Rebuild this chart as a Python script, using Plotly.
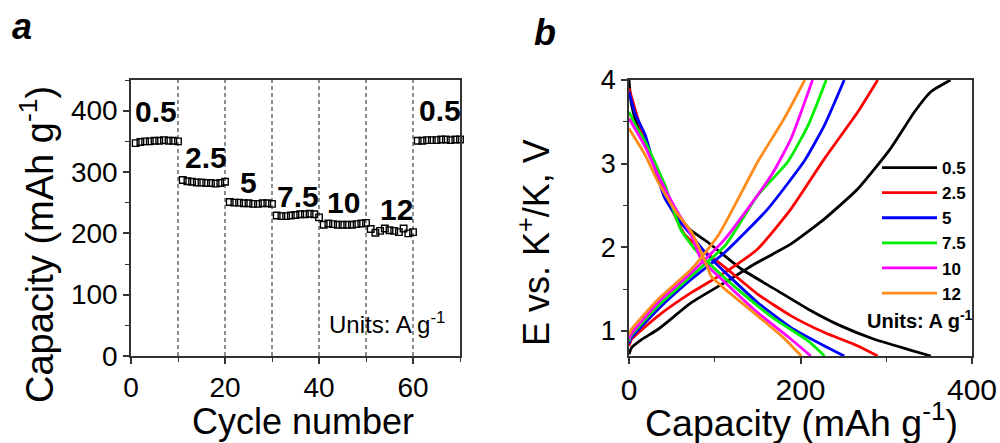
import plotly.graph_objects as go

# ---------------- Panel a data: rate capability ----------------
cycles = list(range(1, 71))
capacity_a = [
    347, 349, 350, 350, 351, 351, 352, 351, 351, 350,   # 0.5
    287, 285, 284, 283, 283, 282, 282, 281, 282, 284,   # 2.5
    251, 250, 250, 249, 249, 248, 248, 249, 249, 248,   # 5
    229, 228, 228, 229, 230, 231, 231, 232, 231, 226,   # 7.5
    214, 216, 215, 214, 214, 214, 214, 215, 216, 217,   # 10
    207, 201, 204, 208, 205, 204, 202, 208, 200, 202,   # 12
    351, 351, 352, 352, 352, 353, 353, 352, 353, 353,   # 0.5
]
rate_boundaries = [10, 20, 30, 40, 50, 60]
rate_labels = ["0.5", "2.5", "5", "7.5", "10", "12", "0.5"]
rate_label_x = [5.3, 16.0, 25.1, 35.5, 45.3, 56.4, 65.7]
rate_label_y = [398, 324, 283, 260, 250, 239, 400]

# ---------------- Panel b data: charge/discharge profiles ----------------
rates_b = ["0.5", "2.5", "5", "7.5", "10", "12"]
colors_b = ["#000000", "#ff0000", "#0000ff", "#00ee00", "#ff00ff", "#ff8c1a"]

chg_cap_0_5 = [0, 3, 15, 34, 73, 112, 150, 189, 228, 267, 305, 333, 352, 375]
chg_v_0_5 = [0.72, 0.80, 0.90, 1.02, 1.34, 1.58, 1.82, 2.04, 2.34, 2.70, 3.18, 3.62, 3.86, 4.0]
dis_cap_0_5 = [0, 3, 10, 19, 34, 53, 70, 92, 131, 170, 209, 247, 286, 325, 352]
dis_v_0_5 = [4.0, 3.7, 3.45, 3.26, 2.86, 2.46, 2.22, 2.06, 1.74, 1.50, 1.26, 1.06, 0.90, 0.78, 0.70]

chg_cap_2_5 = [0, 3, 34, 73, 112, 150, 189, 228, 267, 290]
chg_v_2_5 = [0.82, 0.90, 1.18, 1.46, 1.70, 1.98, 2.46, 3.06, 3.62, 4.0]
dis_cap_2_5 = [0, 10, 19, 34, 50, 65, 84, 112, 150, 189, 228, 267, 290]
dis_v_2_5 = [3.9, 3.55, 3.26, 2.86, 2.46, 2.15, 1.98, 1.76, 1.44, 1.18, 0.98, 0.82, 0.70]

chg_cap_5 = [0, 3, 34, 73, 112, 162, 205, 228, 251]
chg_v_5 = [0.85, 0.92, 1.26, 1.62, 1.94, 2.46, 3.04, 3.46, 4.0]
dis_cap_5 = [0, 7, 19, 30, 42, 60, 73, 92, 112, 150, 189, 228, 251]
dis_v_5 = [3.86, 3.6, 3.34, 2.95, 2.58, 2.30, 2.14, 1.90, 1.70, 1.34, 1.04, 0.82, 0.70]

chg_cap_7_5 = [0, 3, 34, 73, 112, 150, 185, 209, 230]
chg_v_7_5 = [0.88, 0.95, 1.30, 1.66, 2.02, 2.62, 3.02, 3.46, 4.0]
dis_cap_7_5 = [0, 8, 19, 42, 55, 61, 75, 92, 131, 170, 209, 228]
dis_v_7_5 = [3.62, 3.45, 3.26, 2.74, 2.35, 2.20, 2.00, 1.82, 1.46, 1.14, 0.88, 0.70]

chg_cap_10 = [0, 3, 34, 73, 112, 166, 189, 214]
chg_v_10 = [0.90, 0.97, 1.34, 1.70, 2.10, 2.86, 3.30, 4.0]
dis_cap_10 = [0, 19, 34, 55, 73, 84, 112, 150, 189, 212]
dis_v_10 = [3.54, 3.20, 2.86, 2.45, 2.14, 1.86, 1.58, 1.22, 0.90, 0.70]

chg_cap_12 = [0, 3, 34, 73, 104, 150, 181, 205]
chg_v_12 = [0.95, 1.02, 1.38, 1.74, 2.14, 3.02, 3.54, 4.0]
dis_cap_12 = [0, 19, 34, 55, 73, 90, 96, 112, 150, 180, 201]
dis_v_12 = [3.42, 3.10, 2.78, 2.42, 2.18, 1.80, 1.65, 1.50, 1.18, 0.92, 0.70]

charge_caps = [chg_cap_0_5, chg_cap_2_5, chg_cap_5, chg_cap_7_5, chg_cap_10, chg_cap_12]
charge_vs = [chg_v_0_5, chg_v_2_5, chg_v_5, chg_v_7_5, chg_v_10, chg_v_12]
dis_caps = [dis_cap_0_5, dis_cap_2_5, dis_cap_5, dis_cap_7_5, dis_cap_10, dis_cap_12]
dis_vs = [dis_v_0_5, dis_v_2_5, dis_v_5, dis_v_7_5, dis_v_10, dis_v_12]

FONT = "Liberation Sans, Arial, sans-serif"
AX = "#333333"

fig = go.Figure()

# Panel a markers
fig.add_trace(go.Scatter(
    x=cycles, y=capacity_a, mode="markers", xaxis="x", yaxis="y",
    marker=dict(symbol="square-open", size=6.5, color="black", line=dict(width=1.4, color="black")),
    showlegend=False, cliponaxis=False,
))

# Panel b curves
for i, r in enumerate(rates_b):
    fig.add_trace(go.Scatter(
        x=charge_caps[i], y=charge_vs[i], mode="lines", xaxis="x2", yaxis="y2",
        line=dict(color=colors_b[i], width=2.8, shape="spline", smoothing=0.5),
        name=r, legendgroup=r, showlegend=True,
    ))
    fig.add_trace(go.Scatter(
        x=dis_caps[i], y=dis_vs[i], mode="lines", xaxis="x2", yaxis="y2",
        line=dict(color=colors_b[i], width=2.8, shape="spline", smoothing=0.5),
        name=r, legendgroup=r, showlegend=False,
    ))

# dashed boundaries in panel a
for b in rate_boundaries:
    fig.add_shape(type="line", xref="x", yref="y domain", x0=b, x1=b, y0=0, y1=1,
                  line=dict(color="#444444", width=1.2, dash="4px,3px"), layer="below")

annotations = []
for t, lx, ly in zip(rate_labels, rate_label_x, rate_label_y):
    annotations.append(dict(text=t, x=lx, y=ly, xref="x", yref="y", showarrow=False,
                            font=dict(family=FONT, size=30, color="black", weight="bold"),
                            xanchor="center", yanchor="middle"))

annotations += [
    dict(text="Units: A g<sup>-1</sup>", x=0.327, y=1 - 323 / 443, xref="paper", yref="paper",
         showarrow=False, xanchor="left", yanchor="middle",
         font=dict(family=FONT, size=24, color="black")),
    dict(text="Units: A g<sup>-1</sup>", x=0.865, y=1 - 319 / 443, xref="paper", yref="paper",
         showarrow=False, xanchor="left", yanchor="middle",
         font=dict(family=FONT, size=20, color="black", weight="bold")),
    dict(text="Capacity (mAh g<sup>-1</sup>)", x=0.037, y=1 - 245 / 443, xref="paper", yref="paper",
         showarrow=False, textangle=-90, xanchor="center", yanchor="middle",
         font=dict(family=FONT, size=38, color="black")),
    dict(text="Cycle number", x=0.303, y=1 - 421 / 443, xref="paper", yref="paper",
         showarrow=False, xanchor="center", yanchor="middle",
         font=dict(family=FONT, size=36, color="black")),
    dict(text="Capacity (mAh g<sup>-1</sup>)", x=0.801, y=1 - 420 / 443, xref="paper", yref="paper",
         showarrow=False, xanchor="center", yanchor="middle",
         font=dict(family=FONT, size=37.5, color="black")),
    dict(text="E vs. K<sup>+</sup>/K, V", x=0.534, y=1 - 243 / 443, xref="paper", yref="paper",
         showarrow=False, textangle=-90, xanchor="center", yanchor="middle",
         font=dict(family=FONT, size=36, color="black")),
    dict(text="<i>a</i>", x=0.022, y=1 - 27 / 443, xref="paper", yref="paper",
         showarrow=False, xanchor="center", yanchor="middle",
         font=dict(family=FONT, size=36, color="black", weight="bold")),
    dict(text="<i>b</i>", x=0.545, y=1 - 32 / 443, xref="paper", yref="paper",
         showarrow=False, xanchor="center", yanchor="middle",
         font=dict(family=FONT, size=36, color="black", weight="bold")),
]

axis_common = dict(showline=True, linecolor=AX, linewidth=1.5, mirror=True,
                   ticks="outside", ticklen=6, tickwidth=1.5, tickcolor=AX,
                   showgrid=False, zeroline=False, automargin=False)

fig.update_layout(
    template="none",
    width=1000, height=443, autosize=False,
    margin=dict(l=0, r=0, t=0, b=0, pad=0),
    paper_bgcolor="white", plot_bgcolor="white",
    font=dict(family=FONT, color="black"),
    xaxis=dict(domain=[0.131, 0.46], range=[0, 70], tick0=0, dtick=20,
               tickfont=dict(size=28), anchor="y",
               minor=dict(dtick=10, ticklen=4, tickwidth=1.2, tickcolor=AX, ticks="outside"),
               **axis_common),
    yaxis=dict(domain=[1 - 356 / 443, 1 - 80 / 443], range=[0, 450], tick0=0, dtick=100,
               tickfont=dict(size=28), anchor="x",
               minor=dict(dtick=50, ticklen=4, tickwidth=1.2, tickcolor=AX, ticks="outside"),
               **axis_common),
    xaxis2=dict(domain=[0.629, 0.972], range=[0, 400], tick0=0, dtick=200,
                tickfont=dict(size=30), anchor="y2",
                minor=dict(dtick=100, ticklen=4, tickwidth=1.2, tickcolor=AX, ticks="outside"),
                **axis_common),
    yaxis2=dict(domain=[1 - 356 / 443, 1 - 80 / 443], range=[0.7, 4], tick0=0, dtick=1,
                tickfont=dict(size=27), anchor="x2",
                minor=dict(dtick=0.5, ticklen=4, tickwidth=1.2, tickcolor=AX, ticks="outside"),
                **axis_common),
    legend=dict(x=0.877, y=1 - 150 / 443, xanchor="left", yanchor="top",
                bgcolor="rgba(0,0,0,0)", borderwidth=0,
                font=dict(family=FONT, size=17, color="black", weight="bold"),
                itemwidth=55, tracegroupgap=0),
    annotations=annotations,
)

fig.write_html("out.html")
